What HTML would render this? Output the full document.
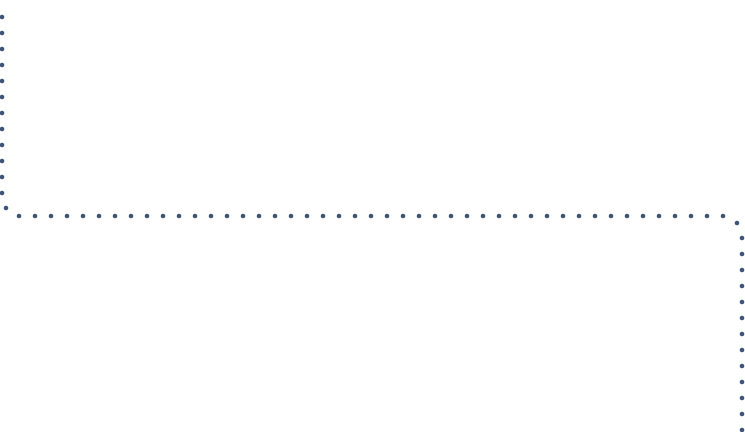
<!DOCTYPE html>
<html><head><style>html,body{margin:0;padding:0;background:#fff;width:745px;height:432px;overflow:hidden}</style></head>
<body>
<svg width="745" height="432" xmlns="http://www.w3.org/2000/svg" id="s"></svg>
<script>
var s=document.getElementById('s'),pts=[];
for(var y=17;y<=193;y+=16)pts.push([2,y]);
pts.push([6,208]);
for(var x=19;x<=723;x+=16)pts.push([x,216]);
pts.push([737,223]);
for(var y=238;y<=432;y+=16)pts.push([742,y]);
var h='';pts.forEach(function(p){h+='<circle cx="'+p[0]+'" cy="'+p[1]+'" r="2.3" fill="#3d5478"/>';});
s.innerHTML=h;
</script>
</body></html>
